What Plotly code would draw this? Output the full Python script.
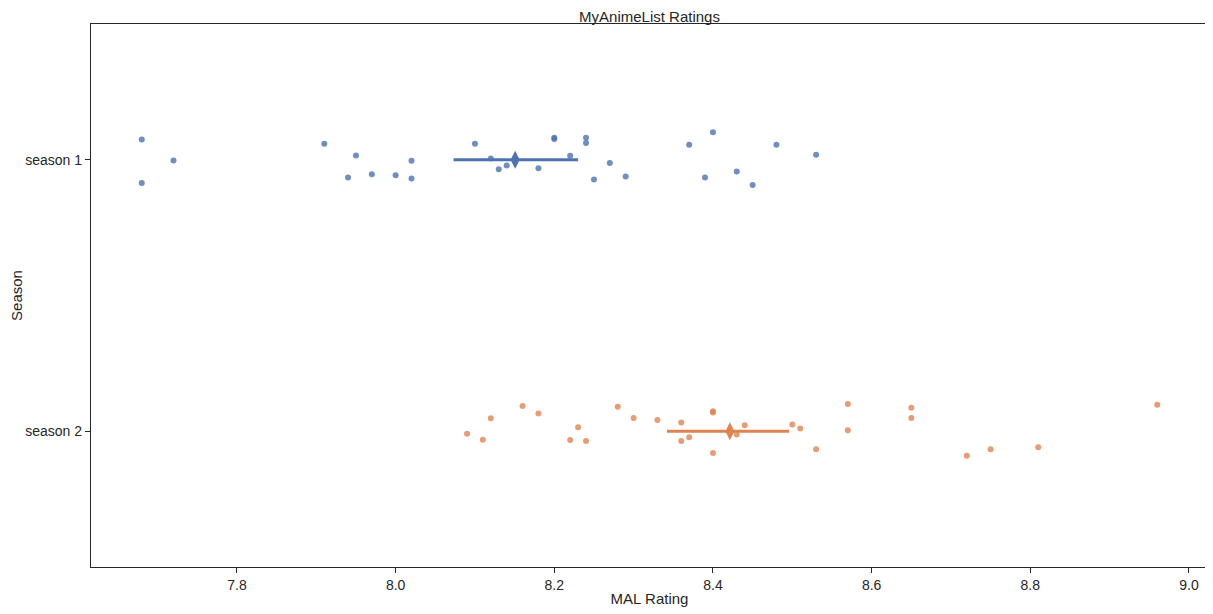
import plotly.graph_objects as go

# MAL ratings per episode
seasons = ["season 1", "season 2"]

s1_rating = [7.68, 7.72, 7.68, 7.91, 7.95, 7.94, 7.97, 8.00, 8.02, 8.02,
             8.10, 8.12, 8.13, 8.14, 8.18, 8.20, 8.20, 8.22, 8.24, 8.24,
             8.25, 8.27, 8.29, 8.37, 8.40, 8.39, 8.43, 8.45, 8.48, 8.53]
# strip jitter (category units)
s1_jitter = [-0.075, 0.003, 0.086, -0.059, -0.016, 0.065, 0.053, 0.057, 0.004, 0.069,
             -0.059, -0.005, 0.035, 0.021, 0.031, -0.081, -0.076, -0.015, -0.081, -0.062,
             0.073, 0.012, 0.062, -0.055, -0.101, 0.065, 0.043, 0.093, -0.055, -0.018]

s2_rating = [8.09, 8.11, 8.12, 8.16, 8.18, 8.22, 8.23, 8.24, 8.28, 8.30,
             8.33, 8.36, 8.36, 8.37, 8.40, 8.40, 8.40, 8.43, 8.44, 8.50,
             8.51, 8.53, 8.57, 8.57, 8.65, 8.65, 8.72, 8.75, 8.81, 8.96]
s2_jitter = [0.009, 0.031, -0.048, -0.093, -0.065, 0.032, -0.015, 0.036, -0.090, -0.049,
             -0.041, -0.032, 0.036, 0.022, -0.074, -0.069, 0.080, 0.012, -0.022, -0.025,
             -0.010, 0.066, -0.100, -0.004, -0.087, -0.049, 0.090, 0.066, 0.059, -0.098]

# bootstrap CI as drawn
ci_low = [8.073, 8.342]
ci_high = [8.230, 8.496]

colors = ["#4C72B0", "#DD8452"]
ratings = [s1_rating, s2_rating]
jitters = [s1_jitter, s2_jitter]

fig = go.Figure()

for i in range(len(seasons)):
    fig.add_trace(go.Scatter(
        x=ratings[i],
        y=[i + j for j in jitters[i]],
        mode="markers",
        marker=dict(size=6, color=colors[i], opacity=0.8, line=dict(width=0)),
        name=seasons[i],
        showlegend=False,
    ))

for i in range(len(seasons)):
    mean = sum(ratings[i]) / len(ratings[i])
    fig.add_trace(go.Scatter(
        x=[ci_low[i], ci_high[i]],
        y=[i, i],
        mode="lines",
        line=dict(color=colors[i], width=3),
        showlegend=False,
    ))
    fig.add_trace(go.Scatter(
        x=[mean],
        y=[i],
        mode="markers",
        marker=dict(symbol="diamond-tall", size=13, color=colors[i], line=dict(width=0)),
        showlegend=False,
    ))

axis_font = dict(family="Liberation Sans, Arial, sans-serif", size=14, color="#262626")

# page body keeps its default 8px margin, so the figure is sized to fit
fig.update_layout(
    width=1205,
    height=606,
    margin=dict(l=83, r=5, t=16, b=47),
    plot_bgcolor="white",
    paper_bgcolor="white",
    font=axis_font,
    title=dict(
        text="MyAnimeList Ratings",
        x=0.5, xref="paper", xanchor="center",
        y=1 - 14 / 606, yref="container", yanchor="bottom",
        font=dict(family="Liberation Sans, Arial, sans-serif", size=15, color="#262626"),
    ),
    xaxis=dict(
        title=dict(text="MAL Rating", font=dict(size=15), standoff=1),
        automargin=False,
        range=[7.616, 9.024],
        tickvals=[7.8, 8.0, 8.2, 8.4, 8.6, 8.8, 9.0],
        ticktext=["7.8", "8.0", "8.2", "8.4", "8.6", "8.8", "9.0"],
        ticks="outside", ticklen=5, tickwidth=1.25, tickcolor="#262626",
        showline=True, linecolor="#262626", linewidth=1.25, mirror=True,
        showgrid=False, zeroline=False,
    ),
    yaxis=dict(
        title=dict(text="Season", font=dict(size=15), standoff=5),
        automargin=False,
        range=[1.5, -0.5],
        tickvals=[0, 1],
        ticktext=seasons,
        ticks="outside", ticklen=5, tickwidth=1.25, tickcolor="#262626",
        showline=True, linecolor="#262626", linewidth=1.25, mirror=True,
        showgrid=False, zeroline=False,
    ),
)

fig.write_html("out.html")
